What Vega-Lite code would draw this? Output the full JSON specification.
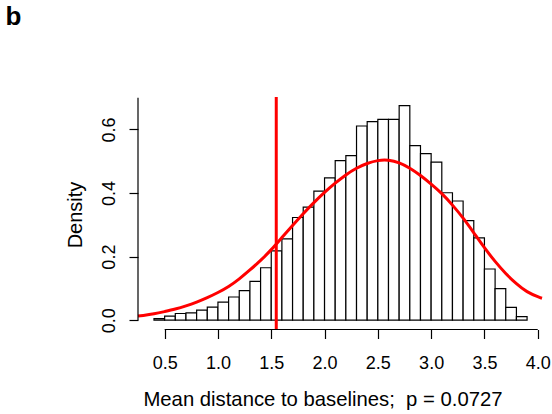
{
  "$schema": "https://vega.github.io/schema/vega-lite/v6.json",
  "width": 404,
  "height": 232.5,
  "autosize": {"type": "none"},
  "padding": {"left": 138, "top": 97, "right": 10, "bottom": 84.5},
  "background": "white",
  "config": {
    "view": {"stroke": null},
    "font": "Liberation Sans",
    "axis": {
      "grid": false,
      "domain": false,
      "tickColor": "black",
      "tickWidth": 1.2,
      "labelColor": "black",
      "titleColor": "black",
      "labelFont": "Liberation Sans",
      "titleFont": "Liberation Sans",
      "titleFontWeight": "normal"
    }
  },
  "title": {
    "text": "b",
    "anchor": "start",
    "frame": "group",
    "fontSize": 26,
    "fontWeight": "bold",
    "font": "Liberation Sans",
    "color": "black",
    "dx": -132.5,
    "offset": 45,
    "baseline": "alphabetic"
  },
  "datasets": {
    "bins": [
      {"start": 0.4, "end": 0.5, "density": 0.005},
      {"start": 0.5, "end": 0.6, "density": 0.0126},
      {"start": 0.6, "end": 0.7, "density": 0.021},
      {"start": 0.7, "end": 0.8, "density": 0.023},
      {"start": 0.8, "end": 0.9, "density": 0.0315},
      {"start": 0.9, "end": 1.0, "density": 0.041},
      {"start": 1.0, "end": 1.1, "density": 0.057},
      {"start": 1.1, "end": 1.2, "density": 0.073},
      {"start": 1.2, "end": 1.3, "density": 0.093},
      {"start": 1.3, "end": 1.4, "density": 0.122},
      {"start": 1.4, "end": 1.5, "density": 0.165},
      {"start": 1.5, "end": 1.6, "density": 0.218},
      {"start": 1.6, "end": 1.7, "density": 0.256},
      {"start": 1.7, "end": 1.8, "density": 0.323},
      {"start": 1.8, "end": 1.9, "density": 0.356},
      {"start": 1.9, "end": 2.0, "density": 0.406},
      {"start": 2.0, "end": 2.1, "density": 0.448},
      {"start": 2.1, "end": 2.2, "density": 0.502},
      {"start": 2.2, "end": 2.3, "density": 0.518},
      {"start": 2.3, "end": 2.4, "density": 0.611},
      {"start": 2.4, "end": 2.5, "density": 0.625},
      {"start": 2.5, "end": 2.6, "density": 0.632},
      {"start": 2.6, "end": 2.7, "density": 0.632},
      {"start": 2.7, "end": 2.8, "density": 0.675},
      {"start": 2.8, "end": 2.9, "density": 0.549},
      {"start": 2.9, "end": 3.0, "density": 0.524},
      {"start": 3.0, "end": 3.1, "density": 0.497},
      {"start": 3.1, "end": 3.2, "density": 0.401},
      {"start": 3.2, "end": 3.3, "density": 0.375},
      {"start": 3.3, "end": 3.4, "density": 0.313},
      {"start": 3.4, "end": 3.5, "density": 0.259},
      {"start": 3.5, "end": 3.6, "density": 0.161},
      {"start": 3.6, "end": 3.7, "density": 0.099},
      {"start": 3.7, "end": 3.8, "density": 0.040},
      {"start": 3.8, "end": 3.9, "density": 0.011}
    ],
    "curve": [
      {"x": 0.25, "density": 0.013},
      {"x": 0.3, "density": 0.015},
      {"x": 0.4, "density": 0.020},
      {"x": 0.5, "density": 0.027},
      {"x": 0.6, "density": 0.035},
      {"x": 0.7, "density": 0.045},
      {"x": 0.8, "density": 0.057},
      {"x": 0.9, "density": 0.071},
      {"x": 1.0, "density": 0.087},
      {"x": 1.1, "density": 0.106},
      {"x": 1.2, "density": 0.130},
      {"x": 1.3, "density": 0.158},
      {"x": 1.4, "density": 0.188},
      {"x": 1.5, "density": 0.222},
      {"x": 1.6, "density": 0.260},
      {"x": 1.7, "density": 0.298},
      {"x": 1.8, "density": 0.335},
      {"x": 1.9, "density": 0.370},
      {"x": 2.0, "density": 0.402},
      {"x": 2.1, "density": 0.431},
      {"x": 2.2, "density": 0.457},
      {"x": 2.3, "density": 0.478},
      {"x": 2.4, "density": 0.493},
      {"x": 2.5, "density": 0.502},
      {"x": 2.6, "density": 0.503},
      {"x": 2.7, "density": 0.495},
      {"x": 2.8, "density": 0.478},
      {"x": 2.9, "density": 0.455},
      {"x": 3.0, "density": 0.428},
      {"x": 3.1, "density": 0.398},
      {"x": 3.2, "density": 0.362},
      {"x": 3.3, "density": 0.321},
      {"x": 3.4, "density": 0.275},
      {"x": 3.5, "density": 0.228},
      {"x": 3.6, "density": 0.185},
      {"x": 3.7, "density": 0.147},
      {"x": 3.8, "density": 0.115},
      {"x": 3.9, "density": 0.090},
      {"x": 4.0, "density": 0.074},
      {"x": 4.04, "density": 0.069}
    ],
    "observed": [{"value": 1.547}],
    "frame": [{"id": 1}]
  },
  "layer": [
    {
      "data": {"name": "bins"},
      "mark": {"type": "rect", "fill": "white", "stroke": "black", "strokeWidth": 1.2},
      "encoding": {
        "x": {
          "field": "start",
          "type": "quantitative",
          "scale": {"domain": [0.25, 4.04], "nice": false, "zero": false},
          "axis": {
            "title": "Mean distance to baselines;\u00a0 p = 0.0727",
            "values": [0.5, 1.0, 1.5, 2.0, 2.5, 3.0, 3.5, 4.0],
            "format": ".1f",
            "tickSize": 9,
            "labelFontSize": 18,
            "labelPadding": 30,
            "labelBaseline": "alphabetic",
            "labelFlush": false,
            "labelOverlap": false,
            "titleFontSize": 20.3,
            "titleX": 184.5,
            "titleY": 75.5,
            "titleAlign": "center",
            "titleBaseline": "alphabetic"
          }
        },
        "x2": {"field": "end"},
        "y": {
          "field": "density",
          "type": "quantitative",
          "scale": {"domain": [-0.0293, 0.7022], "nice": false, "zero": false},
          "axis": {
            "title": "Density",
            "values": [0, 0.1, 0.2, 0.3, 0.4, 0.5, 0.6, 0.7],
            "labelExpr": "round(datum.value * 10) % 2 == 0 ? format(datum.value, '.1f') : ''",
            "tickSize": 9,
            "labelFontSize": 18,
            "labelAngle": -90,
            "labelAlign": "center",
            "labelBaseline": "alphabetic",
            "labelPadding": 14.3,
            "labelFlush": false,
            "labelOverlap": false,
            "titleFontSize": 20,
            "titleAngle": -90,
            "titleX": -56.5,
            "titleY": 117.5,
            "titleAlign": "center",
            "titleBaseline": "alphabetic"
          }
        },
        "y2": {"datum": 0}
      }
    },
    {
      "data": {"name": "curve"},
      "mark": {"type": "line", "color": "#FF0000", "strokeWidth": 3, "interpolate": "natural"},
      "encoding": {
        "x": {"field": "x", "type": "quantitative"},
        "y": {"field": "density", "type": "quantitative"}
      }
    },
    {
      "data": {"name": "observed"},
      "mark": {"type": "rule", "color": "#FF0000", "strokeWidth": 3},
      "encoding": {
        "x": {"field": "value", "type": "quantitative"}
      }
    },
    {
      "data": {"name": "frame"},
      "mark": {"type": "rule", "color": "black", "strokeWidth": 1.2},
      "encoding": {
        "x": {"datum": 0.5},
        "x2": {"datum": 4.0},
        "y": {"datum": -0.0293}
      }
    },
    {
      "data": {"name": "frame"},
      "mark": {"type": "rule", "color": "black", "strokeWidth": 1.2},
      "encoding": {
        "x": {"datum": 0.25},
        "y": {"datum": 0},
        "y2": {"datum": 0.7}
      }
    }
  ]
}
